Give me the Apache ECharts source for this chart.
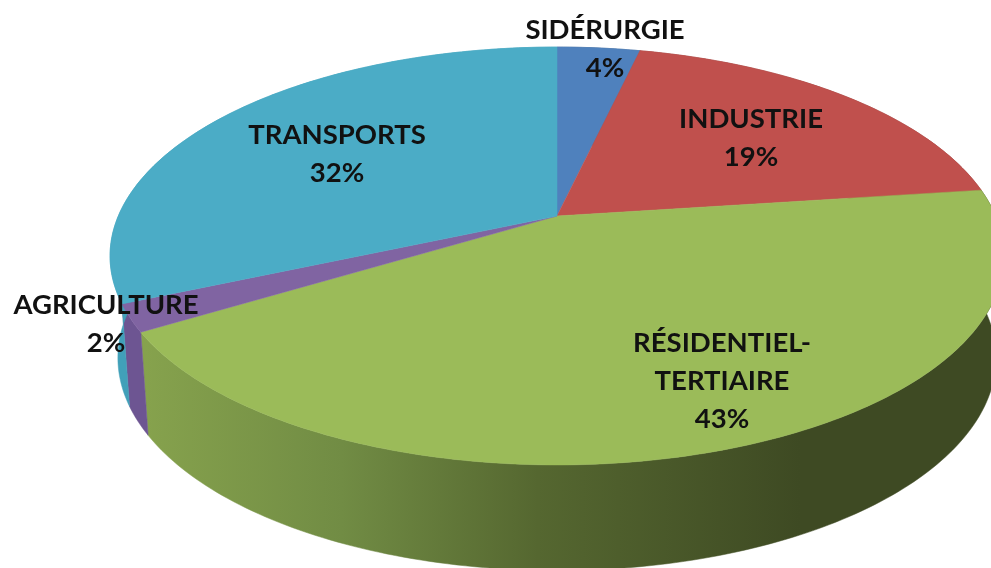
<!DOCTYPE html>
<html lang="fr">
<head>
<meta charset="UTF-8">
<title>Pie</title>
<script src="https://cdn.jsdelivr.net/npm/echarts@6/dist/echarts.min.js"></script>
<style>
  html, body { margin: 0; padding: 0; background: #fff; }
  #main { width: 991px; height: 568px; }
</style>
</head>
<body>
<div id="main"></div>
<script>
const categories = ['SIDÉRURGIE', 'INDUSTRIE', 'RÉSIDENTIEL-\nTERTIAIRE', 'AGRICULTURE', 'TRANSPORTS'];
// the labels show them rounded
const shares = [3.6, 19.3, 43.4, 2.1, 31.6];

// look of the slices
const topColors = ['#4f81bd', '#c0504d', '#9bbb59', '#8064a2', '#4bacc6'];
const sideColors = ['#3c628f', '#8f3c3a', null, '#6d5592', '#41a0b9'];
const labelAnchors = [[605, 49], [751, 138], [722, 381], [106, 324], [337, 154]];

// perspective of the disc: top face and lower rim
const topFace = { cx: 557, cy: 216, a: 438.7, b: 201.3, k: 0.1914 };
const rimFace = { cx: 557, cy: 317, a: 431, b: 205, k: 0.1914 };

function project(p, turn) {
  const u = Math.sin(turn * 2 * Math.PI);
  const v = Math.cos(turn * 2 * Math.PI);
  const w = 1 + p.k * v;
  return [p.cx + p.a * u / w, p.cy - p.b * v / w];
}

function arc(p, from, to) {
  const pts = [];
  const steps = Math.max(4, Math.ceil((to - from) * 360));
  for (let i = 0; i <= steps; i++) {
    pts.push(project(p, from + (to - from) * i / steps));
  }
  return pts;
}

const starts = [];
let total = 0;
shares.forEach(s => { starts.push(total); total += s; });

const sideGreen = new echarts.graphic.LinearGradient(145, 0, 800, 0, [
  { offset: 0, color: '#86a24d' },
  { offset: 0.3, color: '#718c44' },
  { offset: 0.6, color: '#556730' },
  { offset: 1, color: '#3e4a23' }
], true);

function renderSide(params, api) {
  const i = api.value(0);
  const from = starts[i] / total;
  const to = (starts[i] + shares[i]) / total;
  const fill = sideColors[i] || sideGreen;
  return {
    type: 'polygon',
    shape: { points: arc(topFace, from, to).concat(arc(rimFace, from, to).reverse()) },
    style: { fill: fill, stroke: fill, lineWidth: 0.5 }
  };
}

function renderTop(params, api) {
  const i = api.value(0);
  const from = starts[i] / total;
  const to = (starts[i] + shares[i]) / total;
  return {
    type: 'polygon',
    shape: { points: [[topFace.cx, topFace.cy]].concat(arc(topFace, from, to)) },
    style: { fill: topColors[i], stroke: topColors[i], lineWidth: 0.5 }
  };
}

function renderLabel(params, api) {
  const i = api.value(0);
  return {
    type: 'text',
    x: labelAnchors[i][0],
    y: labelAnchors[i][1],
    style: {
      text: categories[i] + '\n' + Math.round(shares[i]) + '%',
      fill: '#111',
      font: '700 27.5px Lato, "Open Sans", sans-serif',
      lineHeight: 38,
      align: 'center',
      verticalAlign: 'middle'
    }
  };
}

const seriesData = shares.map((s, i) => [i, s]);

const chart = echarts.init(document.getElementById('main'), null, { renderer: 'canvas' });
chart.setOption({
  animation: false,
  backgroundColor: '#fff',
  series: [
    { type: 'custom', coordinateSystem: 'none', silent: true, z: 1, renderItem: renderSide, data: seriesData },
    { type: 'custom', coordinateSystem: 'none', silent: true, z: 2, renderItem: renderTop, data: seriesData },
    { type: 'custom', coordinateSystem: 'none', silent: true, z: 3, renderItem: renderLabel, data: seriesData }
  ]
});
</script>
</body>
</html>
